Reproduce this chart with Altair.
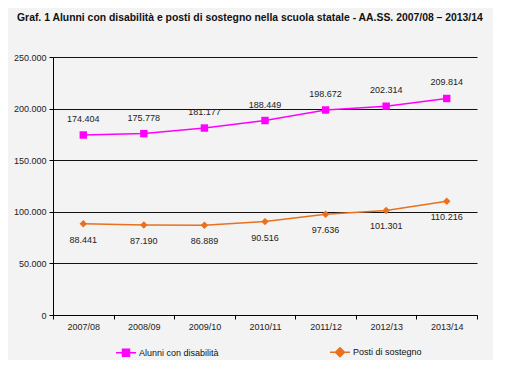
import altair as alt
import pandas as pd

anni = ["2007/08", "2008/09", "2009/10", "2010/11", "2011/12", "2012/13", "2013/14"]
alunni = [174404, 175778, 181177, 188449, 198672, 202314, 209814]
posti = [88441, 87190, 86889, 90516, 97636, 101301, 110216]
serie = ["Alunni con disabilità", "Posti di sostegno"]
y_ticks = [0, 50000, 100000, 150000, 200000, 250000]

rows = []
for a, v in zip(anni, alunni):
    rows.append({"anno": a, "serie": serie[0], "valore": v})
for a, v in zip(anni, posti):
    rows.append({"anno": a, "serie": serie[1], "valore": v})
df = pd.DataFrame(rows)
df["etichetta"] = df["valore"].map(lambda v: f"{v:,}".replace(",", "."))

FONT = "Liberation Sans"
colors = ["#ff00ff", "#e8701e"]

x_enc = alt.X(
    "anno:N",
    sort=anni,
    scale=alt.Scale(type="band", paddingInner=0, paddingOuter=0),
    axis=alt.Axis(
        title=None, tickBand="extent", grid=False, labelAngle=0,
        labelFont=FONT, labelFontSize=9, labelColor="#222",
        domainColor="#000", tickColor="#000", tickSize=4, labelPadding=3,
    ),
)
y_enc = alt.Y(
    "valore:Q",
    scale=alt.Scale(domain=[0, 250000], nice=False),
    axis=alt.Axis(
        title=None, values=y_ticks,
        labelExpr="replace(format(datum.value, ','), ',', '.')",
        labelFont=FONT, labelFontSize=9, labelColor="#222",
        domainColor="#000", tickColor="#000", tickSize=4, labelPadding=3,
        gridColor="#111", gridWidth=1,
    ),
)
cscale = alt.Scale(domain=serie, range=colors)

base = alt.Chart(df).encode(x=x_enc, y=y_enc)

lines = base.mark_line(strokeWidth=1.5).encode(
    color=alt.Color("serie:N", scale=cscale, legend=None)
)
points = base.mark_point(filled=True, opacity=1, size=55).encode(
    color=alt.Color("serie:N", scale=cscale, legend=None),
    shape=alt.Shape("serie:N", scale=alt.Scale(domain=serie, range=["square", "diamond"]), legend=None),
)
txt_top = base.transform_filter(alt.datum.serie == serie[0]).mark_text(
    dy=-16, font=FONT, fontSize=9, color="#222"
).encode(text="etichetta:N")
txt_bot = base.transform_filter(alt.datum.serie == serie[1]).mark_text(
    dy=16, font=FONT, fontSize=9, color="#222"
).encode(text="etichetta:N")

legend_paths = [
    "M-1,0H1M-0.35,-0.35H0.35V0.35H-0.35Z",
    "M-1,0H1M0,-0.45L0.45,0L0,0.45L-0.45,0Z",
]
leg = alt.Legend(
    title=None, orient="none", legendX=62, legendY=284, direction="horizontal",
    columns=2, columnPadding=108, symbolSize=400, symbolStrokeWidth=1.5,
    symbolOpacity=1,
    labelFont=FONT, labelFontSize=9, labelColor="#111", labelOffset=2,
)
legend_layer = base.transform_filter("false").mark_point(
    filled=False, opacity=1, strokeWidth=1.5
).encode(
    stroke=alt.Stroke("serie:N", scale=alt.Scale(domain=serie, range=colors), legend=leg),
    fill=alt.Fill("serie:N", scale=alt.Scale(domain=serie, range=colors), legend=leg),
    shape=alt.Shape("serie:N", scale=alt.Scale(domain=serie, range=legend_paths), legend=leg),
)

chart = (
    alt.layer(lines, points, txt_top, txt_bot, legend_layer)
    .resolve_scale(shape="independent", fill="independent", stroke="independent")
    .properties(
        width=424, height=258,
        autosize=alt.AutoSizeParams(type="none"),
        padding={"left": 45, "top": 49, "right": 16, "bottom": 45},
        background="#f3f3f3",
        title=alt.TitleParams(
            "Graf. 1 Alunni con disabilità e posti di sostegno nella scuola statale -  AA.SS. 2007/08 – 2013/14",
            anchor="start", frame="group", dx=-36, offset=30,
            font=FONT, fontSize=10.4, fontWeight="bold", color="#111",
        ),
    )
    .configure_view(stroke=None)
)

chart.save("out.html", embed_options={"renderer": "svg", "actions": False})
